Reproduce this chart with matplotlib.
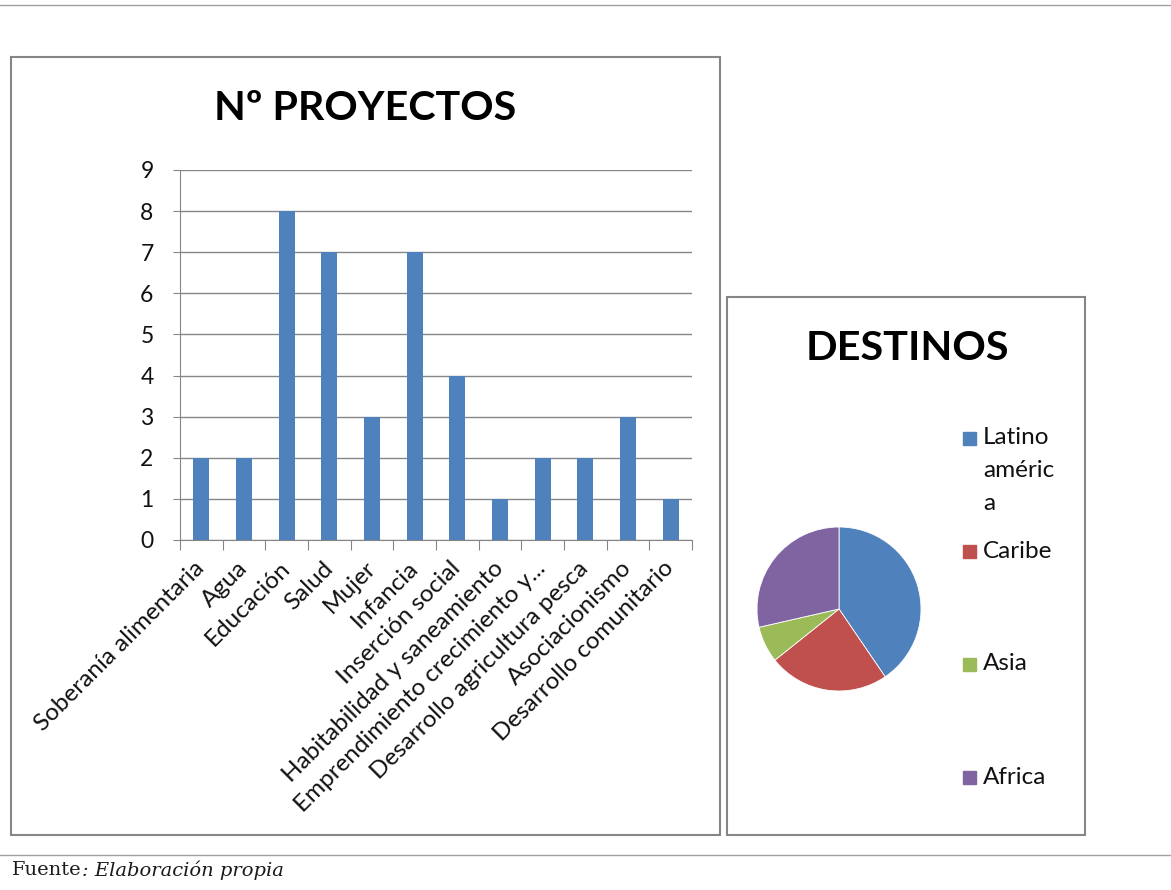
import matplotlib
matplotlib.use("Agg")
import matplotlib.pyplot as plt
from matplotlib.patches import Rectangle

categories = ["Soberanía alimentaria", "Agua", "Educación", "Salud", "Mujer", "Infancia",
              "Inserción social", "Habitabilidad y saneamiento", "Emprendimiento crecimiento y...",
              "Desarrollo agricultura pesca", "Asociacionismo", "Desarrollo comunitario"]
proyectos = [2, 2, 8, 7, 3, 7, 4, 1, 2, 2, 3, 1]
yticks = list(range(0, 10))

destinos = ["Latino\naméric\na", "Caribe", "Asia", "Africa"]
destinos_vals = [17, 10, 3, 12]
pie_colors = ["#4F81BD", "#C0504D", "#9BBB59", "#8064A2"]

W, H = 1171, 890
fig = plt.figure(figsize=(W / 100, H / 100), dpi=100)
FONT = "Lato"
TXT = "#111111"

def fx(x):
    return x / W

def fy(y):
    return 1 - y / H

# page lines
fig.add_artist(plt.Line2D([0, 1], [fy(5), fy(5)], color="#a0a0a0", lw=1))
fig.add_artist(plt.Line2D([0, 1], [fy(855), fy(855)], color="#a0a0a0", lw=1))

# chart boxes
fig.add_artist(Rectangle((fx(11), fy(835)), fx(709), (835 - 57) / H, fill=False,
                         edgecolor="#868686", lw=1.5))
fig.add_artist(Rectangle((fx(727), fy(835)), fx(358), (835 - 297) / H, fill=False,
                         edgecolor="#868686", lw=1.5))

# bar chart
ax = fig.add_axes([fx(180), fy(540), fx(512), (540 - 170) / H])
x = list(range(len(categories)))
ax.bar(x, proyectos, width=0.38, color="#4F81BD", zorder=3)
ax.set_xlim(-0.5, len(categories) - 0.5)
ax.set_ylim(0, 9)
ax.set_yticks(yticks)
ax.yaxis.grid(True, color="#868686", lw=1, zorder=0)
for s in ["top", "right"]:
    ax.spines[s].set_visible(False)
for s in ["left", "bottom"]:
    ax.spines[s].set_color("#868686")
ax.set_xticks([i - 0.5 for i in range(len(categories) + 1)], minor=False)
ax.set_xticklabels([])
ax.set_xticks(x, minor=True)
ax.set_xticklabels(categories, minor=True, rotation=45, ha="right", va="center",
                   rotation_mode="anchor", fontsize=17.5, family=FONT, color=TXT)
ax.tick_params(axis="x", which="minor", length=0, pad=18)
ax.tick_params(axis="x", which="major", length=7, color="#868686", direction="out")
ax.tick_params(axis="y", length=5, color="#868686", labelsize=16.5, pad=14, labelcolor=TXT)
for t in ax.get_yticklabels():
    t.set_family(FONT)
fig.text(fx(365), fy(108), "Nº PROYECTOS", ha="center", va="center", fontsize=29.7,
         fontweight="bold", family=FONT, color="#000000")

# pie chart
r = 82
axp = fig.add_axes([fx(839 - r), fy(609 + r), fx(2 * r), 2 * r / H])
axp.pie(destinos_vals, colors=pie_colors, startangle=90, counterclock=False, radius=1,
        wedgeprops=dict(linewidth=0.6, edgecolor="white"))
axp.set_xlim(-1, 1)
axp.set_ylim(-1, 1)
axp.set_aspect("equal")
fig.text(fx(907), fy(348), "DESTINOS", ha="center", va="center", fontsize=29.8,
         fontweight="bold", family=FONT, color="#000000")

leg_y = [438, 551, 664, 777]
for lab, col, yy in zip(destinos, pie_colors, leg_y):
    fig.add_artist(Rectangle((fx(963), fy(yy + 7)), fx(13), 13 / H, color=col))
    if "\n" in lab:
        fig.text(fx(983), fy(yy - 11), lab, ha="left", va="top", fontsize=17.5,
                 family=FONT, color=TXT, linespacing=1.72)
    else:
        fig.text(fx(983), fy(yy), lab, ha="left", va="center", fontsize=17.5,
                 family=FONT, color=TXT)

# footer
t1 = fig.text(fx(12), fy(870), "Fuente", ha="left", va="center", fontsize=14,
              family="DejaVu Serif", color="#1a1a1a")
fig.canvas.draw()
ext = t1.get_window_extent(renderer=fig.canvas.get_renderer())
fig.text(ext.x1 / W, fy(870), ": Elaboración propia", ha="left", va="center",
         fontsize=14, family="DejaVu Serif", style="italic", color="#1a1a1a")

fig.savefig("out.png", dpi=100)
